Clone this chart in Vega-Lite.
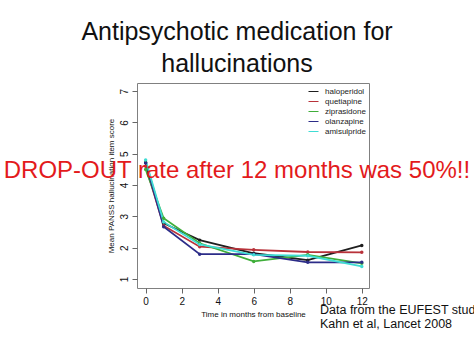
{
  "$schema": "https://vega.github.io/schema/vega-lite/v6.json",
  "autosize": {"type": "none"},
  "width": 232,
  "height": 205,
  "padding": {"left": 137, "top": 83, "right": 105, "bottom": 67},
  "background": "white",
  "config": {
    "font": "Liberation Sans",
    "view": {"stroke": "#808080", "strokeWidth": 1},
    "axis": {
      "labelOverlap": false,
      "domain": false, "grid": false, "tickSize": 5, "tickColor": "#666",
      "labelFontSize": 10, "labelColor": "#111", "labelPadding": 3,
      "titleFontSize": 8, "titleFontWeight": "normal", "titleColor": "#111", "titlePadding": 4
    }
  },
  "title": {
    "text": ["Antipsychotic medication for", "hallucinations"],
    "fontSize": 25,
    "fontWeight": "normal",
    "font": "Liberation Sans",
    "color": "#111111",
    "anchor": "middle",
    "frame": "group",
    "dx": -16,
    "lineHeight": 32,
    "offset": 6
  },
  "data": {
    "values": [
      {"drug": "haloperidol", "month": 0, "score": 4.72},
      {"drug": "haloperidol", "month": 1, "score": 2.78},
      {"drug": "haloperidol", "month": 3, "score": 2.24},
      {"drug": "haloperidol", "month": 6, "score": 1.82},
      {"drug": "haloperidol", "month": 9, "score": 1.6},
      {"drug": "haloperidol", "month": 12, "score": 2.07},
      {"drug": "quetiapine", "month": 0, "score": 4.6},
      {"drug": "quetiapine", "month": 1, "score": 2.7},
      {"drug": "quetiapine", "month": 3, "score": 2.03},
      {"drug": "quetiapine", "month": 6, "score": 1.93},
      {"drug": "quetiapine", "month": 9, "score": 1.86},
      {"drug": "quetiapine", "month": 12, "score": 1.85},
      {"drug": "ziprasidone", "month": 0, "score": 4.5},
      {"drug": "ziprasidone", "month": 1, "score": 2.94},
      {"drug": "ziprasidone", "month": 3, "score": 2.14},
      {"drug": "ziprasidone", "month": 6, "score": 1.56},
      {"drug": "ziprasidone", "month": 9, "score": 1.77},
      {"drug": "ziprasidone", "month": 12, "score": 1.5},
      {"drug": "olanzapine", "month": 0, "score": 4.7},
      {"drug": "olanzapine", "month": 1, "score": 2.67},
      {"drug": "olanzapine", "month": 3, "score": 1.79},
      {"drug": "olanzapine", "month": 6, "score": 1.79},
      {"drug": "olanzapine", "month": 9, "score": 1.53},
      {"drug": "olanzapine", "month": 12, "score": 1.53},
      {"drug": "amisulpride", "month": 0, "score": 4.8},
      {"drug": "amisulpride", "month": 1, "score": 2.82},
      {"drug": "amisulpride", "month": 3, "score": 2.1},
      {"drug": "amisulpride", "month": 6, "score": 1.77},
      {"drug": "amisulpride", "month": 9, "score": 1.74},
      {"drug": "amisulpride", "month": 12, "score": 1.4}
    ]
  },
  "layer": [
    {
      "mark": {"type": "line", "strokeWidth": 1.8, "point": {"filled": true, "size": 12}},
      "encoding": {
        "x": {
          "field": "month", "type": "quantitative",
          "scale": {"domain": [-0.48, 12.4], "nice": false, "zero": false},
          "axis": {
            "values": [0, 2, 4, 6, 8, 10, 12],
            "labelOverlap": false,
            "title": "Time in months from baseline"
          }
        },
        "y": {
          "field": "score", "type": "quantitative",
          "scale": {"domain": [0.71, 7.26], "nice": false, "zero": false},
          "axis": {
            "values": [1, 2, 3, 4, 5, 6, 7],
            "labelOverlap": false,
            "title": "Mean PANSS hallucination item score",
            "labelAngle": -90, "labelAlign": "center", "labelBaseline": "bottom"
          }
        },
        "color": {
          "field": "drug", "type": "nominal",
          "scale": {
            "domain": ["haloperidol", "quetiapine", "ziprasidone", "olanzapine", "amisulpride"],
            "range": ["#1e1e1e", "#b8323a", "#3fae3a", "#2c2c88", "#3fdcd4"]
          },
          "legend": {
            "title": null,
            "orient": "top-right",
            "offset": 1,
            "symbolType": "stroke",
            "symbolSize": 100,
            "symbolStrokeWidth": 1,
            "labelFontSize": 8,
            "labelOffset": 6,
            "labelColor": "#222",
            "rowPadding": -0.5,
            "padding": 2
          }
        }
      }
    },
    {
      "data": {"values": [{"note": "DROP-OUT rate after 12 months was 50%!!"}]},
      "mark": {"type": "text", "fontSize": 24, "color": "#e31a1c", "align": "center", "baseline": "alphabetic", "clip": false},
      "encoding": {
        "x": {"datum": 5.07, "type": "quantitative", "axis": {"values": [0, 2, 4, 6, 8, 10, 12], "labelOverlap": false, "title": "Time in months from baseline"}},
        "y": {"datum": 4.22, "type": "quantitative", "axis": {"values": [1, 2, 3, 4, 5, 6, 7], "labelOverlap": false, "title": "Mean PANSS hallucination item score", "labelAngle": -90, "labelAlign": "center", "labelBaseline": "bottom"}},
        "text": {"field": "note"}
      }
    },
    {
      "data": {"values": [{"note": "Data from the EUFEST study"}]},
      "mark": {"type": "text", "fontSize": 12.5, "color": "#111", "align": "left", "baseline": "alphabetic"},
      "encoding": {
        "x": {"datum": 9.68, "type": "quantitative", "axis": {"values": [0, 2, 4, 6, 8, 10, 12], "labelOverlap": false, "title": "Time in months from baseline"}},
        "y": {"datum": -0.12, "type": "quantitative", "axis": {"values": [1, 2, 3, 4, 5, 6, 7], "labelOverlap": false, "title": "Mean PANSS hallucination item score", "labelAngle": -90, "labelAlign": "center", "labelBaseline": "bottom"}},
        "text": {"field": "note"}
      }
    },
    {
      "data": {"values": [{"note": "Kahn et al, Lancet 2008"}]},
      "mark": {"type": "text", "fontSize": 12.5, "color": "#111", "align": "left", "baseline": "alphabetic"},
      "encoding": {
        "x": {"datum": 9.68, "type": "quantitative", "axis": {"values": [0, 2, 4, 6, 8, 10, 12], "labelOverlap": false, "title": "Time in months from baseline"}},
        "y": {"datum": -0.57, "type": "quantitative", "axis": {"values": [1, 2, 3, 4, 5, 6, 7], "labelOverlap": false, "title": "Mean PANSS hallucination item score", "labelAngle": -90, "labelAlign": "center", "labelBaseline": "bottom"}},
        "text": {"field": "note"}
      }
    }
  ]
}
